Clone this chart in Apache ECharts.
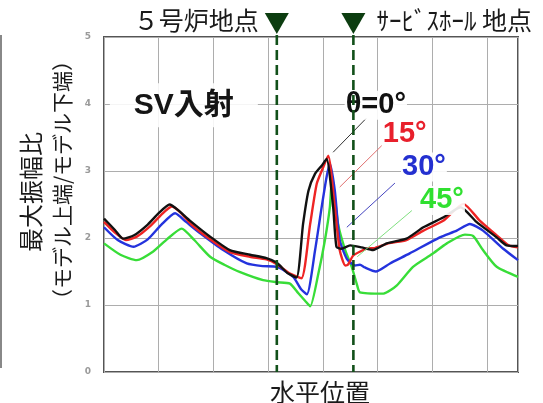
<!DOCTYPE html>
<html><head><meta charset="utf-8">
<script src="https://cdn.jsdelivr.net/npm/echarts@6/dist/echarts.min.js"></script>
<style>html,body{margin:0;padding:0;background:#fff}#c{width:543px;height:403px}</style>
</head><body><div id="c"></div>
<script>
// ---- data (x: horizontal position in grid units, y: max amplitude ratio) ----
const theta0 = [[0,2.29],[0.2,2.12],[0.35,1.99],[0.55,2.04],[0.8,2.2],[1.0,2.37],[1.2,2.5],[1.35,2.42],[1.57,2.26],[1.94,2.02],[2.3,1.82],[2.67,1.75],[2.97,1.7],[3.16,1.63],[3.35,1.48],[3.52,1.41],[3.64,2.21],[3.74,2.71],[3.86,2.96],[3.98,3.08],[4.07,3.18],[4.19,2.46],[4.25,1.87],[4.34,1.84],[4.5,1.89],[4.71,1.86],[4.92,1.82],[5.17,1.92],[5.53,1.99],[5.84,2.16],[6.21,2.31],[6.52,2.46],[6.81,2.24],[7.18,2.01],[7.36,1.89],[7.57,1.88]];
const theta15 = [[0,2.24],[0.2,2.08],[0.4,1.97],[0.6,2.02],[0.85,2.18],[1.05,2.35],[1.24,2.47],[1.4,2.38],[1.6,2.2],[1.94,1.98],[2.3,1.79],[2.67,1.72],[2.97,1.68],[3.16,1.61],[3.4,1.47],[3.61,1.4],[3.77,2.21],[3.89,2.81],[4.01,3.06],[4.1,3.23],[4.22,2.46],[4.31,1.82],[4.41,1.59],[4.46,1.6],[4.56,1.74],[4.8,1.84],[4.95,1.85],[5.2,1.92],[5.53,1.97],[5.84,2.11],[6.21,2.26],[6.57,2.51],[6.87,2.26],[7.18,2.04],[7.4,1.89],[7.57,1.86]];
const theta30 = [[0,2.16],[0.25,1.97],[0.54,1.87],[0.8,1.98],[1.05,2.2],[1.3,2.37],[1.5,2.24],[1.76,2.07],[2.18,1.82],[2.61,1.62],[2.9,1.58],[3.16,1.57],[3.46,1.42],[3.6,1.24],[3.71,1.16],[3.86,1.82],[3.98,2.46],[4.07,2.91],[4.13,3.11],[4.22,2.71],[4.31,1.97],[4.44,1.69],[4.59,1.59],[4.68,1.6],[4.77,1.56],[4.97,1.5],[5.23,1.62],[5.59,1.77],[6.14,2.01],[6.45,2.11],[6.69,2.21],[6.93,2.11],[7.3,1.84],[7.57,1.67]];
const theta45 = [[0,1.92],[0.3,1.75],[0.6,1.67],[0.9,1.8],[1.15,1.98],[1.42,2.14],[1.65,1.97],[1.94,1.72],[2.2,1.6],[2.49,1.49],[2.91,1.37],[3.16,1.34],[3.4,1.32],[3.55,1.18],[3.68,1.06],[3.77,0.98],[3.92,1.47],[4.04,1.97],[4.13,2.46],[4.17,2.9],[4.28,2.21],[4.41,1.82],[4.53,1.57],[4.62,1.32],[4.68,1.19],[5.11,1.17],[5.35,1.29],[5.65,1.57],[6.0,1.76],[6.27,1.92],[6.6,2.05],[6.75,2.03],[6.93,1.82],[7.18,1.57],[7.57,1.42]];

const seriesNames = ['θ=0°','15°','30°','45°'];
const seriesLabels = ['θ=0°','15°','30°','45°'];
const labelPos = [[4.97,3.98],[5.5,3.55],[5.85,3.06],[6.18,2.56]];
const leaderFrom = [[4.8,3.79],[5.08,3.38],[5.32,2.82],[5.63,2.41]];
const leaderTo = [[4.19,3.28],[4.31,2.76],[4.44,2.16],[4.63,1.72]];
const siteX = [3.16, 4.56];
const siteNames = ['５号炉地点', 'ｻｰﾋﾞｽﾎｰﾙ 地点'];
const yTicks = [0,1,2,3,4,5];
const xMax = 7.57;
const panelTitle = 'SV入射';
const panelTitlePos = [1.46, 3.98];
const yTitle1 = '最大振幅比';
const yTitle2 = '（モデル上端/モデル下端）';
const xTitle = '水平位置';

const colors = ['#111111','#ee2424','#2433dd','#38dd38'];
const labelColors = ['#111111','#e8202c','#2430d0','#30e030'];
const leaderColors = ['#333333','#e07070','#4545c0','#80e080'];

const chart = echarts.init(document.getElementById('c'), null, {renderer:'canvas'});
const allData = [theta0, theta15, theta30, theta45];
chart.setOption({
  animation:false,
  backgroundColor:'#fff',
  grid:{left:104, right:25, top:37, bottom:31, show:true, borderColor:'#555', borderWidth:2, backgroundColor:'transparent'},
  xAxis:{type:'value', min:0, max:xMax, interval:1,
    axisLine:{show:false}, axisTick:{show:false}, axisLabel:{show:false},
    splitLine:{show:true, lineStyle:{color:'#adadad', width:1}}},
  yAxis:{type:'value', min:yTicks[0], max:yTicks[yTicks.length-1], interval:1,
    axisLine:{show:false}, axisTick:{show:false},
    axisLabel:{color:'#9a9a9a', fontSize:9, fontWeight:'bold', margin:13, fontFamily:'DejaVu Sans'},
    splitLine:{show:true, lineStyle:{color:'#adadad', width:1}}},
  series: allData.map((d,i)=>({
    name: seriesNames[i], type:'line', data:d, symbol:'none', smooth:0.2,
    lineStyle:{color:colors[i], width:2.4}, z: 5-i
  }))
});

function px(p){ return chart.convertToPixel({gridIndex:0}, p); }
const g = [];
g.push({type:'line', shape:{x1:1, y1:35, x2:1, y2:368}, style:{stroke:'#888', lineWidth:2}, z:1});
const pt = px(panelTitlePos);
g.push({type:'rect', shape:{x:pt[0]-74, y:pt[1]-22, width:148, height:44}, style:{fill:'rgba(255,255,255,0.88)'}, z:20});
g.push({type:'text', x:pt[0], y:pt[1], style:{text:panelTitle, font:'bold 30px "Liberation Sans", "Noto Sans CJK JP", sans-serif', fill:'#151515', align:'center', verticalAlign:'middle'}, z:21});
for(let i=0;i<4;i++){
  const a=px(leaderFrom[i]), b=px(leaderTo[i]);
  g.push({type:'line', shape:{x1:a[0],y1:a[1],x2:b[0],y2:b[1]}, style:{stroke:leaderColors[i], lineWidth:1}, z:18});
}
for(let i=0;i<4;i++){
  const p=px(labelPos[i]);
  g.push({type:'text', x:p[0], y:p[1], style:{text:seriesLabels[i], font:'bold 29px "Liberation Sans", "DejaVu Sans", sans-serif', fill:labelColors[i], align:'center', verticalAlign:'middle', backgroundColor:'rgba(255,255,255,0.9)', padding:[0,1]}, z:22});
}
for(let i=0;i<2;i++){
  const top=px([siteX[i],5]), bot=px([siteX[i],0]);
  g.push({type:'line', shape:{x1:top[0],y1:top[1]-2,x2:bot[0],y2:bot[1]}, style:{stroke:'#12501a', lineWidth:2.6, lineDash:[10,5]}, z:25});
  g.push({type:'polygon', shape:{points:[[top[0]-12,13],[top[0]+12,13],[top[0],34]]}, style:{fill:'#0c3d10'}, z:26});
}
const s0=px([siteX[0],5]), s1=px([siteX[1],5]);
g.push({type:'text', x:s0[0]-18, y:20, style:{text:siteNames[0], font:'25px "Noto Sans CJK JP", sans-serif', fill:'#1a1a1a', align:'right', verticalAlign:'middle'}, z:30});
g.push({type:'text', x:s1[0]+23, y:20, style:{text:siteNames[1], font:'25px "Noto Sans CJK JP", sans-serif', fill:'#1a1a1a', align:'left', verticalAlign:'middle'}, z:30});
g.push({type:'text', x:320, y:392, style:{text:xTitle, font:'25px "Noto Sans CJK JP", sans-serif', fill:'#1a1a1a', align:'center', verticalAlign:'middle'}, z:30});
g.push({type:'text', x:31, y:192, rotation:Math.PI/2, style:{text:yTitle1, font:'24px "Noto Sans CJK JP", sans-serif', fill:'#1a1a1a', align:'center', verticalAlign:'middle'}, z:30});
g.push({type:'text', x:62, y:180, rotation:Math.PI/2, style:{text:yTitle2, font:'21px "Noto Sans CJK JP", sans-serif', fill:'#1a1a1a', align:'center', verticalAlign:'middle'}, z:30});
chart.setOption({graphic:g});
</script>
</body></html>
